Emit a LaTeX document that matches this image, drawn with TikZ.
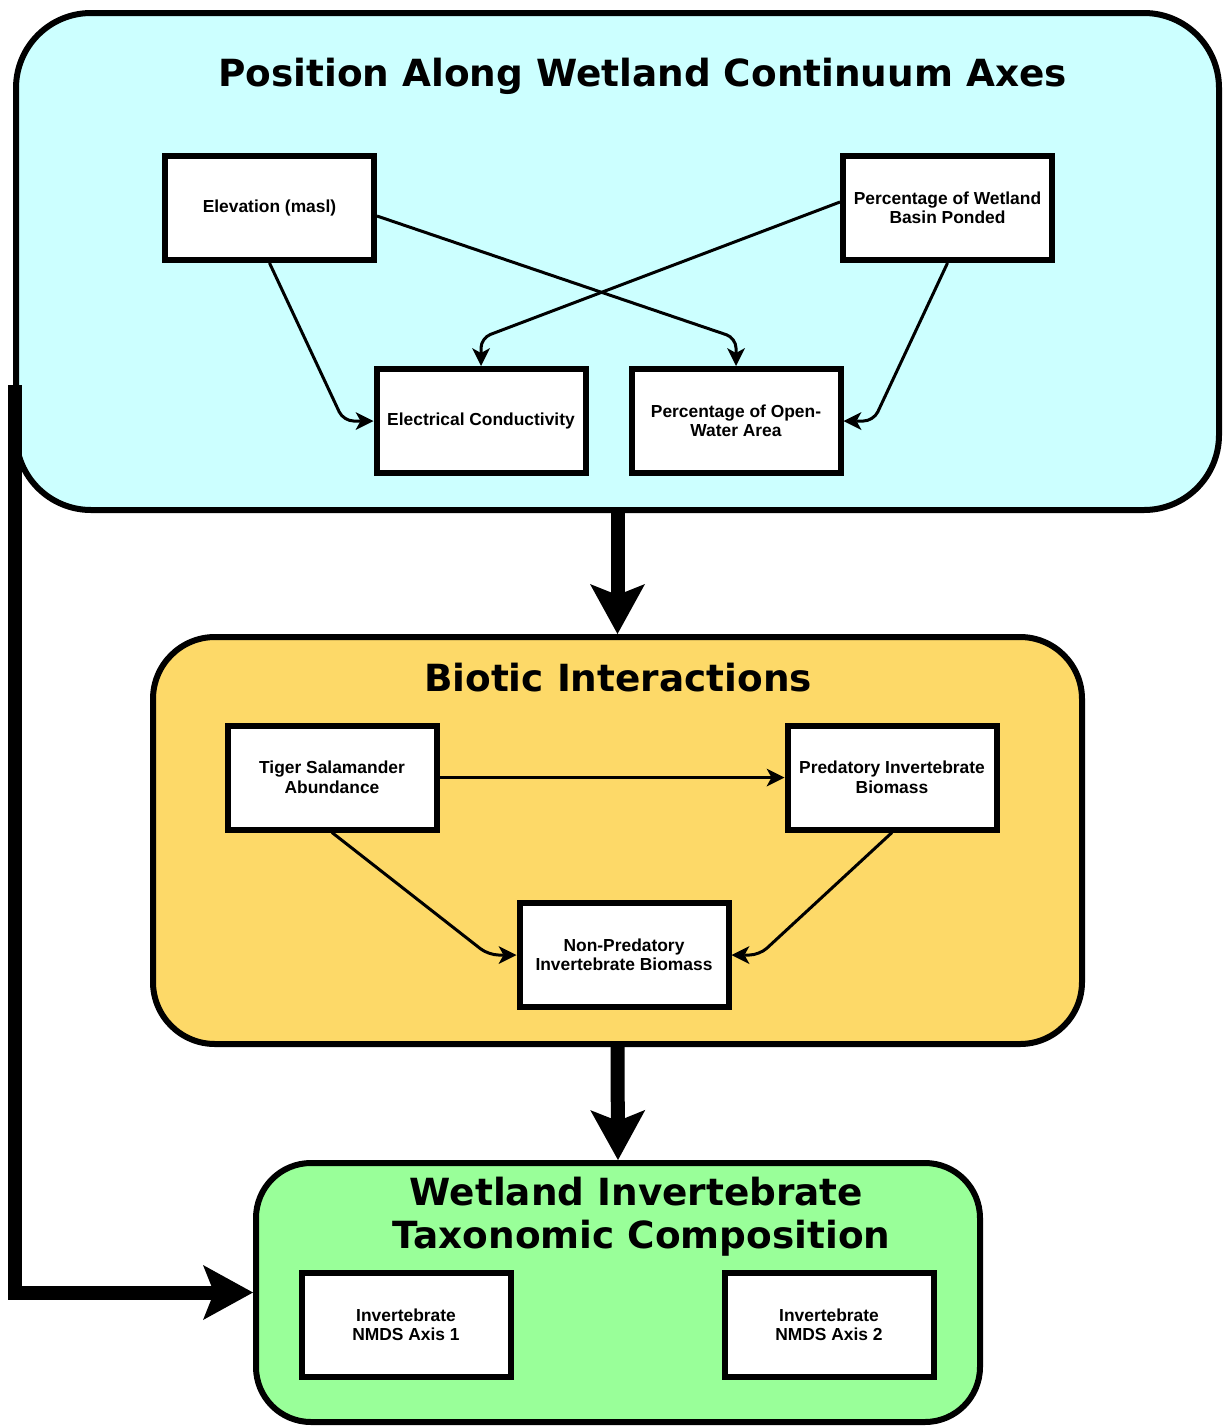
\documentclass[tikz,border=0pt]{standalone}
\usepackage{fontspec}
\setmainfont{Liberation Sans}
\newfontfamily\titlefont{DejaVu Sans}
\usetikzlibrary{arrows.meta,calc}
\definecolor{cyanfill}{RGB}{204,255,255}
\definecolor{goldfill}{RGB}{253,217,104}
\definecolor{greenfill}{RGB}{153,255,153}
\begin{document}
\begin{tikzpicture}[x=1pt,y=-1pt,
  panel/.style={draw=black, line width=6pt, rounded corners=#1, inner sep=0pt},
  boxnode/.style={draw=black, line width=6pt, fill=white, minimum width=209pt, minimum height=104pt,
    align=center, inner sep=0pt, font=\fontsize{17.4}{19.5}\selectfont\bfseries},
  titlestyle/.style={inner sep=0pt, font=\titlefont\fontsize{37.4}{44}\selectfont\bfseries},
  thinarrow/.style={line width=3pt, rounded corners=10pt,
    -{Stealth[length=18pt,width=18pt,inset=5pt,line width=0pt]}},
  bigarrow/.style={line width=14pt, line join=miter,
    -{Stealth[length=50pt,width=55pt,inset=11pt,line width=0pt]}}]
\useasboundingbox (0,0) rectangle (1224,1427);

% panels
\node[panel=75pt, fill=cyanfill, minimum width=1203pt, minimum height=497pt] (top) at (617.5,261.5) {};
\node[panel=62pt, fill=goldfill, minimum width=929pt, minimum height=407pt] (bio) at (617.5,840.5) {};
\node[panel=55pt, fill=greenfill, minimum width=724pt, minimum height=259pt] (grn) at (618,1292.5) {};

% titles
\node[titlestyle, anchor=base] (ttop) at (642.5,86) {Position Along Wetland Continuum Axes};
\node[titlestyle, anchor=base] (tbio) at (618,691) {Biotic Interactions};
\node[titlestyle, anchor=base] (tgrn1) at (636.5,1205) {Wetland Invertebrate};
\node[titlestyle, anchor=base] (tgrn2) at (641.5,1248) {Taxonomic Composition};

% top boxes
\node[boxnode] (elev) at (269.5,208) {Elevation (masl)};
\node[boxnode] (pwb) at (947.5,208) {Percentage of Wetland\\Basin Ponded};
\node[boxnode] (ec) at (481,421) {Electrical Conductivity};
\node[boxnode] (ow) at (736,421) {Percentage of Open-\\Water Area};

% biotic boxes
\node[boxnode] (tiger) at (332,777.5) {Tiger Salamander\\Abundance};
\node[boxnode] (pred) at (892,777.5) {Predatory Invertebrate\\Biomass};
\node[boxnode] (np) at (624,955) {Non-Predatory\\Invertebrate Biomass};

% green boxes
\node[boxnode] (nm1) at (406,1325) {Invertebrate\\NMDS Axis 1};
\node[boxnode] (nm2) at (829,1325) {Invertebrate\\NMDS Axis 2};

% thin connectors
\draw[thinarrow] (elev.south) -- ([xshift=-30pt]ec.west) -- (ec.west);
\draw[thinarrow] ([yshift=-8pt]elev.east) -- ([yshift=28pt]ow.north) -- (ow.north);
\draw[thinarrow] ([yshift=6pt]pwb.west) -- ([yshift=28pt]ec.north) -- (ec.north);
\draw[thinarrow] (pwb.south) -- ([xshift=30pt]ow.east) -- (ow.east);

\draw[thinarrow] (tiger.east) -- (pred.west);
\draw[thinarrow] (tiger.south) -- ([xshift=-28pt]np.west) -- (np.west);
\draw[thinarrow] (pred.south) -- ([xshift=28pt]np.east) -- (np.east);

% big connectors
\draw[bigarrow] (top.south) -- (bio.north);
\draw[bigarrow] (bio.south) -- (grn.north);
\coordinate (lstart) at (15,385);
\draw[bigarrow] (lstart) |- (grn.west);
\end{tikzpicture}
\end{document}
